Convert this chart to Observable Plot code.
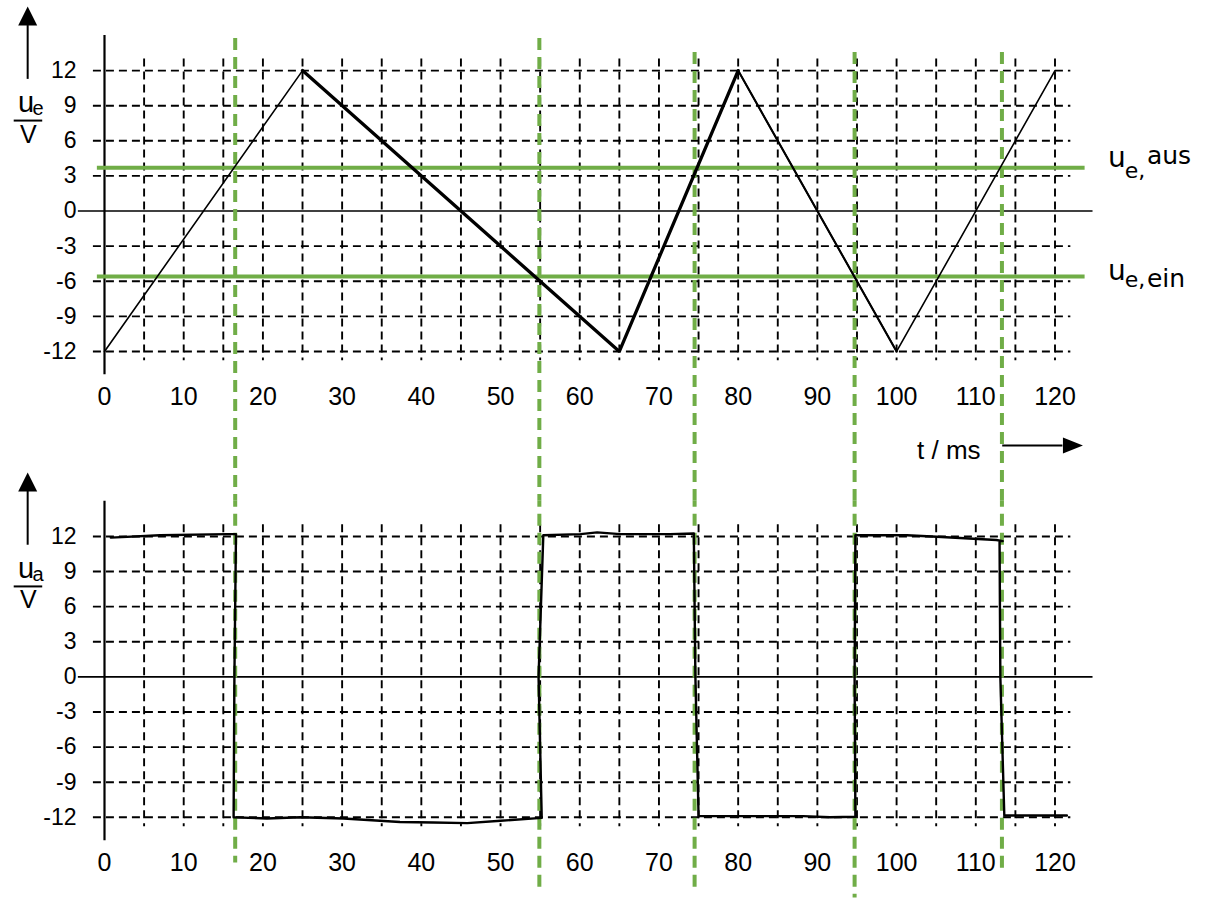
<!DOCTYPE html>
<html>
<head>
<meta charset="utf-8">
<script src="https://cdn.jsdelivr.net/npm/d3@7"></script>
<script src="https://cdn.jsdelivr.net/npm/@observablehq/plot@0.6"></script>
<style>
  html, body { margin: 0; padding: 0; background: #fff; }
  #chart { width: 1214px; height: 902px; }
</style>
</head>
<body>
<div id="chart"></div>
<script>
// ---------- data ----------
const panels = ["ue", "ua"];

// input voltage u_e (triangle wave), vertices
const ueTime = [0, 25, 65, 80, 100, 120];
const ueVolt = [-12, 12, -12, 12, -12, 12];

// output voltage u_a (hand-drawn square wave)
const uaTime = [0.8, 7.0, 15.5, 16.6, 16.4, 16.3, 20.5, 24.7, 30.2, 37.3, 41.5, 45.8, 50.0, 55.2,
                54.8, 55.4, 60.1, 62.2, 65.1, 71.4, 74.4, 74.6, 75.0, 79.0, 88.2, 91.6, 94.8,
                94.7, 94.8, 101.3, 105.1, 112.6, 113.4, 113.0, 113.1, 113.6, 121.5];
const uaVolt = [11.9, 12.1, 12.2, 12.2, 0, -12.0, -12.1, -12.0, -12.1, -12.4, -12.45, -12.5, -12.3, -12.05,
                0, 12.1, 12.2, 12.35, 12.2, 12.2, 12.25, 0, -11.9, -11.9, -11.9, -12.0, -11.95,
                0, 12.1, 12.1, 11.97, 11.7, 11.6, 11.6, 0, -11.85, -11.85];

// switching thresholds u_e,aus / u_e,ein and switching instants
const thresholdName = ["aus", "ein"];
const thresholdVolt = [3.7, -5.6];
const switchTimes = [16.5, 54.9, 74.5, 94.7, 113.3];

// ticks and grid
const xTicks = [0, 10, 20, 30, 40, 50, 60, 70, 80, 90, 100, 110, 120];
const yTicks = [-12, -9, -6, -3, 0, 3, 6, 9, 12];
const gridTimes = [5, 10, 15, 20, 25, 30, 35, 40, 45, 50, 55, 60, 65, 70, 75, 80, 85, 90, 95, 100, 105, 110, 115, 120];
const gridVolts = [-12, -9, -6, -3, 3, 6, 9, 12];

// axis symbols
const axisSymbol = ["u", "u"];
const axisSub = ["e", "a"];
const axisUnit = ["V", "V"];

// ---------- tables ----------
const ueRows = ueTime.map((t, i) => ({t, v: ueVolt[i]}));
const uaRows = uaTime.map((t, i) => ({t, v: uaVolt[i]}));
const labelRows = panels.map((p, i) => ({p, sym: axisSymbol[i], sub: axisSub[i], unit: axisUnit[i]}));
const thrRows = thresholdName.map((n, i) => ({n, v: thresholdVolt[i]}));

// ---------- layout / style ----------
const green = "#70ad47";
const gridStyle = {stroke: "#000", strokeWidth: 1.9, strokeDasharray: "8,5"};
const switchTop = [14.74, 14.74, 13.55, 13.55, 13.55];
const switchBottom = [-15.9, -18.1, -18.1, -18.9, -16.5];
const inTop = () => "ue";
const inBot = () => "ua";

const arrowUp = {draw(ctx) { ctx.moveTo(0, -19); ctx.lineTo(9.5, 0); ctx.lineTo(-9.5, 0); ctx.closePath(); }};
const arrowRight = {draw(ctx) { ctx.moveTo(20, 0); ctx.lineTo(0, -8); ctx.lineTo(0, 8); ctx.closePath(); }};
const hand = "'DejaVu Sans', 'Open Sans', sans-serif";

const chart = Plot.plot({
  width: 1214,
  height: 902,
  marginTop: 35,
  marginBottom: 61.8,
  marginLeft: 104,
  marginRight: 159.5,
  x: {domain: [0, 120]},
  y: {domain: [-14, 15]},
  fy: {domain: panels, paddingInner: 0.27158, paddingOuter: 0, round: false, axis: null},
  style: {fontFamily: "'Liberation Sans', Arial, sans-serif", color: "black", background: "white", overflow: "visible"},
  marks: [
    // dashed grid
    Plot.ruleY(gridVolts, {x1: -1.4, x2: 122, ...gridStyle}),
    Plot.ruleX(gridTimes, {y1: 13, y2: -12.8, ...gridStyle}),
    // axis lines
    Plot.ruleY([0], {x1: -3.3, x2: 124.8, stroke: "black", strokeWidth: 1.7}),
    Plot.ruleX([0], {y1: 15, y2: -14, stroke: "black", strokeWidth: 2.2}),
    // tick labels
    Plot.axisY({ticks: yTicks, anchor: "left", tickSize: 0, tickPadding: 28, tickFormat: d => String(d), fontSize: 23, label: null}),
    Plot.axisX({ticks: xTicks, anchor: "bottom", tickSize: 0, tickPadding: 12.5, tickFormat: d => String(d), fontSize: 25, label: null, facetAnchor: null}),
    // y-axis arrows and unit labels
    Plot.ruleX(labelRows, {x: -9.7, y1: 15.85, y2: 11.25, fy: "p", stroke: "black", strokeWidth: 2}),
    Plot.dot(labelRows, {x: -9.7, y: 15.85, fy: "p", symbol: arrowUp, r: 5, fill: "black", stroke: "none"}),
    Plot.text(labelRows, {x: -9.9, y: 8.42, fy: "p", text: "sym", fontSize: 29, lineAnchor: "bottom", textAnchor: "middle"}),
    Plot.text(labelRows, {x: -8.4, y: 8.2, fy: "p", text: "sub", fontSize: 20, lineAnchor: "bottom", textAnchor: "middle"}),
    Plot.ruleY(labelRows, {y: 7.73, x1: -11.4, x2: -7.8, fy: "p", stroke: "black", strokeWidth: 2}),
    Plot.text(labelRows, {x: -9.6, y: 5.85, fy: "p", text: "unit", fontSize: 25, lineAnchor: "bottom", textAnchor: "middle"}),
    // time axis label and arrow
    Plot.text(["t / ms"], {x: 110.6, y: -20.45, fy: inTop, text: d => d, fontSize: 26, textAnchor: "end"}),
    Plot.ruleY([0], {y: -20.04, x1: 113.4, x2: 121, fy: inTop, stroke: "black", strokeWidth: 2}),
    Plot.dot([0], {x: 121, y: -20.04, fy: inTop, symbol: arrowRight, r: 5, fill: "black", stroke: "none"}),
    // thresholds
    Plot.ruleY(thrRows, {y: "v", x1: -0.9, x2: 123.8, fy: inTop, stroke: green, strokeWidth: 4}),
    // switching instants (dashed green verticals, across both panels)
    Plot.ruleX(switchTimes, {y1: (d, i) => switchTop[i], y2: -24.8, fy: inTop, stroke: green, strokeWidth: 4, strokeDasharray: "12,7"}),
    Plot.ruleX(switchTimes, {y1: 15, y2: (d, i) => switchBottom[i], fy: inBot, stroke: green, strokeWidth: 4, strokeDasharray: "12,7", strokeDashoffset: 6}),
    // u_e triangle wave
    Plot.line(ueRows, {x: "t", y: "v", fy: inTop, stroke: "black", strokeWidth: 1.6, strokeLinejoin: "miter"}),
    Plot.line(ueRows.filter(d => d.t >= 80 && d.t <= 100), {x: "t", y: "v", fy: inTop, stroke: "black", strokeWidth: 2.1}),
    Plot.line(ueRows.filter(d => d.t >= 25 && d.t <= 80), {x: "t", y: "v", fy: inTop, stroke: "black", strokeWidth: 3.3, strokeLinejoin: "miter"}),
    // u_a square wave
    Plot.line(uaRows, {x: "t", y: "v", fy: inBot, stroke: "black", strokeWidth: 2.4, strokeLinejoin: "round", strokeLinecap: "round"}),
    // handwritten threshold names
    Plot.text(thrRows, {x: 126.7, y: d => d.n === "aus" ? 3.8 : -5.9, fy: inTop, text: () => "u", fontSize: 28, fontFamily: hand, lineAnchor: "bottom", textAnchor: "start"}),
    Plot.text(thrRows, {x: 128.8, y: d => d.n === "aus" ? 2.85 : -6.5, fy: inTop, text: () => "e,", fontSize: 22, fontFamily: hand, lineAnchor: "bottom", textAnchor: "start"}),
    Plot.text(thrRows, {x: 131.6, y: d => d.n === "aus" ? 4.05 : -6.5, fy: inTop, text: "n", fontSize: 25, fontFamily: hand, lineAnchor: "bottom", textAnchor: "start"})
  ]
});
document.getElementById("chart").appendChild(chart);
</script>
</body>
</html>
